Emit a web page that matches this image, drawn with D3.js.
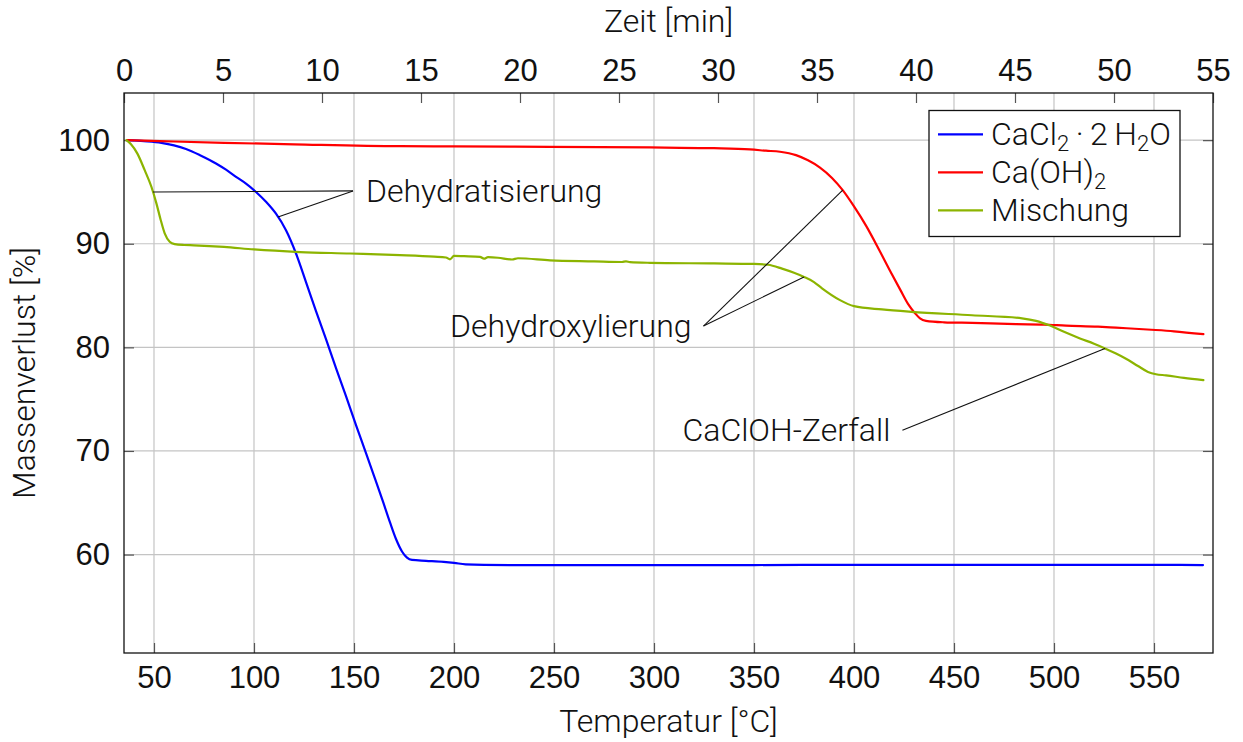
<!DOCTYPE html>
<html>
<head>
<meta charset="utf-8">
<script src="https://cdn.jsdelivr.net/npm/d3@7"></script>
<style>
  body { margin: 0; background: #ffffff; }
  svg { display: block; font-family: Roboto, "Noto Sans", sans-serif; font-weight: 300; fill: #111; }
</style>
</head>
<body>
<svg id="chart" width="1243" height="742"></svg>
<script>
// ---- Thermogravimetric data: temperature [°C] and remaining mass [%] ----
const tempTicks = [50, 100, 150, 200, 250, 300, 350, 400, 450, 500, 550];
const timeTicks = [0, 5, 10, 15, 20, 25, 30, 35, 40, 45, 50, 55];
const massTicks = [60, 70, 80, 90, 100];

const cacl2Temp = [36.5, 45, 53.7, 60, 66, 73, 81, 86, 91, 96, 101, 106, 111, 116, 121, 126, 131, 136, 141, 146,
  151, 156, 160, 164.5, 168, 171, 174, 176.5, 179, 186, 194.8, 200, 205.8, 215, 250, 300, 350, 400, 450, 500, 550, 574.5];
const cacl2Mass = [100, 99.9, 99.74, 99.5, 99.15, 98.55, 97.75, 97.15, 96.46, 95.8, 95.0, 94.05, 92.9, 91.3, 89.06,
  86.3, 83.5, 80.8, 78.0, 75.3, 72.5, 69.8, 67.6, 65.1, 63.1, 61.5, 60.3, 59.7, 59.48, 59.4, 59.3, 59.2, 59.05, 59.0,
  58.98, 58.98, 58.99, 59.0, 59.0, 59.0, 59.0, 58.99];

const caoh2Temp = [36.5, 60, 85, 120, 173, 200, 248, 298, 330, 348, 356, 363, 371, 377, 383, 389, 394.35, 400, 406,
  412.6, 418, 423.3, 427, 430.5, 433, 436, 445, 459, 481, 495, 506, 522, 531, 548.7, 560, 574.7];
const caoh2Mass = [100, 99.87, 99.74, 99.6, 99.42, 99.4, 99.35, 99.3, 99.22, 99.1, 98.98, 98.88, 98.55, 98.05, 97.35,
  96.35, 95.17, 93.6, 91.75, 89.4, 87.4, 85.5, 84.2, 83.3, 82.8, 82.56, 82.42, 82.36, 82.24, 82.2, 82.1, 82.0, 81.9,
  81.7, 81.55, 81.27];

const mixTemp = [36.2, 38.5, 41.7, 45.35, 48.7, 51.2, 53.35, 55.35, 57.85, 60.35, 65, 70, 85, 100, 123, 148, 173,
  190, 196, 198, 200, 205, 213, 215, 217, 222, 229, 232, 248, 270, 284, 286, 288, 298, 330, 350, 357, 364, 370, 375,
  380, 384, 393, 400, 414, 428.6, 459, 484, 491, 498, 505, 513, 520, 525.5, 531, 536, 542, 547, 551, 556, 565, 574.7];
const mixMass = [100, 99.6, 98.7, 97.1, 95.5, 93.9, 92.3, 91.0, 90.2, 89.97, 89.88, 89.85, 89.7, 89.45, 89.2, 89.06,
  88.9, 88.75, 88.67, 88.5, 88.83, 88.8, 88.74, 88.56, 88.7, 88.65, 88.48, 88.6, 88.4, 88.3, 88.24, 88.3, 88.22,
  88.16, 88.1, 88.05, 87.97, 87.6, 87.2, 86.8, 86.3, 85.7, 84.56, 83.98, 83.66, 83.43, 83.1, 82.8, 82.56, 82.1,
  81.5, 80.86, 80.35, 79.9, 79.4, 78.9, 78.2, 77.63, 77.4, 77.3, 77.05, 76.83];

// Legend labels as [text, isSubscript] pieces
const cacl2Label = [["CaCl", false], ["2", true], ["\u2009·\u20092\u2009H", false], ["2", true], ["O", false]];
const caoh2Label = [["Ca(OH)", false], ["2", true]];
const mixLabel = [["Mischung", false]];

const series = [
  { key: "cacl2", temp: cacl2Temp, mass: cacl2Mass, color: "#0000ff", label: cacl2Label },
  { key: "caoh2", temp: caoh2Temp, mass: caoh2Mass, color: "#ff0000", label: caoh2Label },
  { key: "mix",   temp: mixTemp,   mass: mixMass,   color: "#8cb400", label: mixLabel }
];

// Callouts: label anchor in data coordinates, pointing to curves at given temperatures
const annotations = [
  { text: "Dehydratisierung", at: [149.5, 95.1], side: "start", targets: [["mix", 49.5], ["cacl2", 112]] },
  { text: "Dehydroxylierung", at: [324.75, 82.05], side: "end", targets: [["caoh2", 394.35], ["mix", 375]] },
  { text: "CaClOH-Zerfall",   at: [424.2, 72.0], side: "end", targets: [["mix", 525.5]] }
];

// ---- Layout ----
const plot = { left: 124, right: 1213, top: 93, bottom: 653 };
const fontSize = 32;
const tickFontSize = 31;

const x = d3.scaleLinear().domain([35, 579.5]).range([plot.left, plot.right]);
const xTime = d3.scaleLinear().domain([0, 55]).range([plot.left, plot.right]);
const y = d3.scaleLinear().domain([50.5, 104.55]).range([plot.bottom, plot.top]);

const svg = d3.select("#chart");

// Grid
const grid = svg.append("g").attr("stroke", "#c4c4c4").attr("stroke-width", 1.2);
grid.selectAll("line.v").data(tempTicks).join("line")
  .attr("x1", d => x(d)).attr("x2", d => x(d))
  .attr("y1", plot.top).attr("y2", plot.bottom);
grid.selectAll("line.h").data(massTicks).join("line")
  .attr("x1", plot.left).attr("x2", plot.right)
  .attr("y1", d => y(d)).attr("y2", d => y(d));

// Axes with inward ticks
function styleAxis(g) {
  g.select(".domain").remove();
  g.selectAll(".tick line").attr("stroke", "#555").attr("stroke-width", 1.2);
  g.selectAll(".tick text").attr("font-size", tickFontSize).attr("font-family", "inherit")
    .attr("font-weight", 300).attr("fill", "#111");
}
svg.append("g").attr("transform", `translate(0,${plot.bottom})`)
  .call(d3.axisBottom(x).tickValues(tempTicks).tickSizeInner(-10).tickSizeOuter(0).tickPadding(13))
  .call(styleAxis);
svg.append("g").attr("transform", `translate(0,${plot.top})`)
  .call(d3.axisTop(xTime).tickValues(timeTicks).tickSizeInner(-10).tickSizeOuter(0).tickPadding(12))
  .call(styleAxis);
svg.append("g").attr("transform", `translate(${plot.left},0)`)
  .call(d3.axisLeft(y).tickValues(massTicks).tickSizeInner(-10).tickSizeOuter(0).tickPadding(14))
  .call(styleAxis);
svg.append("g").attr("transform", `translate(${plot.right},0)`)
  .call(d3.axisRight(y).tickValues(massTicks).tickSizeInner(-10).tickSizeOuter(0).tickFormat(""))
  .call(styleAxis);

// Curves
const line = d3.line().x(d => x(d[0])).y(d => y(d[1])).curve(d3.curveMonotoneX);
const curves = svg.append("g").attr("fill", "none").attr("stroke-width", 2.2)
  .attr("stroke-linejoin", "round").attr("stroke-linecap", "round");
series.forEach(s => {
  curves.append("path")
    .attr("d", line(s.temp.map((t, i) => [t, s.mass[i]])))
    .attr("stroke", s.color);
});

// Frame
svg.append("rect")
  .attr("x", plot.left).attr("y", plot.top)
  .attr("width", plot.right - plot.left).attr("height", plot.bottom - plot.top)
  .attr("fill", "none").attr("stroke", "#111").attr("stroke-width", 1.3);

// Callouts
function massAt(key, t) {
  const s = series.find(d => d.key === key);
  const i = d3.bisectLeft(s.temp, t);
  if (i <= 0) return s.mass[0];
  if (i >= s.temp.length) return s.mass[s.mass.length - 1];
  const t0 = s.temp[i - 1], t1 = s.temp[i];
  return s.mass[i - 1] + (s.mass[i] - s.mass[i - 1]) * (t - t0) / (t1 - t0);
}
const notes = svg.append("g");
annotations.forEach(a => {
  const px = x(a.at[0]), py = y(a.at[1]);
  a.targets.forEach(([key, t]) => {
    notes.append("line")
      .attr("x1", px).attr("y1", py)
      .attr("x2", x(t)).attr("y2", y(massAt(key, t)))
      .attr("stroke", "#111").attr("stroke-width", 1.1);
  });
  const txt = notes.append("text")
    .attr("x", a.side === "start" ? px + 13 : px - 12)
    .attr("y", py)
    .attr("text-anchor", a.side)
    .attr("font-size", fontSize)
    .text(a.text);
  const bb = txt.node().getBBox();
  txt.attr("y", py - (bb.y + bb.height / 2 - py));
});

// Legend
const legend = svg.append("g");
legend.append("rect")
  .attr("x", 929).attr("y", 110.5).attr("width", 251).attr("height", 126)
  .attr("fill", "#fff").attr("stroke", "#111").attr("stroke-width", 1.3);
series.forEach((s, i) => {
  const base = 145 + i * 38;
  legend.append("line")
    .attr("x1", 938).attr("x2", 983)
    .attr("y1", base - 10.7).attr("y2", base - 10.7)
    .attr("stroke", s.color).attr("stroke-width", 2.2);
  const t = legend.append("text").attr("x", 991).attr("y", base).attr("font-size", fontSize);
  s.label.forEach(([str, sub]) => {
    const span = t.append("tspan").text(str);
    if (sub) span.attr("font-size", 22).attr("dy", 6);
    else if (t.selectAll("tspan").size() > 1) span.attr("dy", -6);
  });
});

// Axis titles
svg.append("text").attr("x", (plot.left + plot.right) / 2).attr("y", 32)
  .attr("text-anchor", "middle").attr("font-size", fontSize).text("Zeit [min]");
svg.append("text").attr("x", (plot.left + plot.right) / 2).attr("y", 732)
  .attr("text-anchor", "middle").attr("font-size", fontSize).text("Temperatur [°C]");
svg.append("text")
  .attr("transform", `translate(35,${(plot.top + plot.bottom) / 2}) rotate(-90)`)
  .attr("text-anchor", "middle").attr("font-size", fontSize).text("Massenverlust [%]");
</script>
</body>
</html>
